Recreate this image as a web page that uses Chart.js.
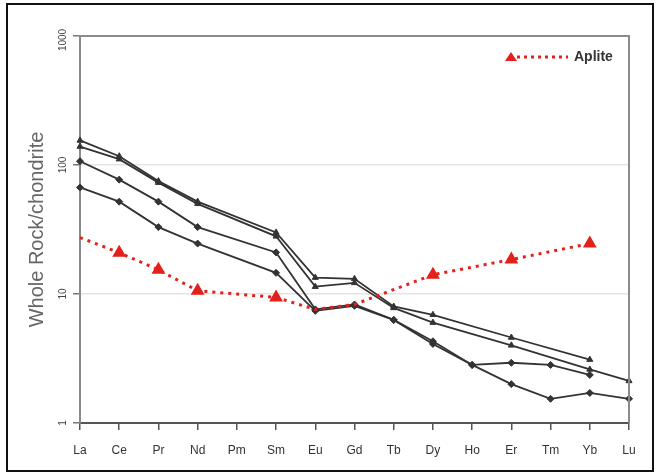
<!DOCTYPE html>
<html>
<head>
<meta charset="utf-8">
<script src="https://cdn.jsdelivr.net/npm/chart.js@4/dist/chart.umd.min.js"></script>
<style>
  html, body { margin: 0; padding: 0; background: #fff; }
  canvas { display: block; }
</style>
</head>
<body>
<canvas id="ree" width="661" height="475"></canvas>
<script>
// ---- data (chondrite-normalised REE) ----
const elements = ['La','Ce','Pr','Nd','Pm','Sm','Eu','Gd','Tb','Dy','Ho','Er','Tm','Yb','Lu'];
const sampleA = [155, 117, 75, 52, null, 30, 13.4, 13.1, 8.0, 6.9, null, 4.6, null, 3.1, null];
const sampleB = [139, 111, 73, 50, null, 28, 11.4, 12.2, 7.8, 6.0, null, 4.0, null, 2.6, 2.12];
const sampleC = [107, 77, 52, 33, null, 21, 7.6, 8.3, 6.3, 4.3, 2.82, 2.93, 2.82, 2.36, null];
const sampleD = [67, 52, 33, 24.6, null, 14.6, 7.4, 8.1, 6.3, 4.1, 2.82, 2.0, 1.54, 1.71, 1.54];
const aplite  = [27.4, 20.9, 15.4, 10.6, null, 9.4, 7.6, 8.3, null, 14.1, null, 18.5, null, 24.6, null];
const apliteMarked = ['Ce','Pr','Nd','Sm','Dy','Er','Yb'];
const yTicks = [1, 10, 100, 1000];

const RED = '#e3201b';
const DARK = '#333';

function blackSeries(label, data, shape){
  return {
    label, data,
    borderColor: DARK, borderWidth: 1.8,
    pointStyle: shape, pointRadius: 3.5,
    pointBackgroundColor: DARK, pointBorderColor: DARK, pointBorderWidth: 1,
    tension: 0, spanGaps: true
  };
}

// frame, y tick labels and the legend are drawn by hand here
const extras = {
  id: 'extras',
  afterDraw(chart){
    const {ctx, chartArea: a, scales} = chart;
    ctx.save();
    // plot area top + right border
    ctx.strokeStyle = '#8a8a8a'; ctx.lineWidth = 2;
    ctx.beginPath();
    ctx.moveTo(a.left, a.top); ctx.lineTo(a.right, a.top); ctx.lineTo(a.right, a.bottom);
    ctx.stroke();
    // outer black frame
    ctx.strokeStyle = '#111'; ctx.lineWidth = 2;
    ctx.strokeRect(7, 4, 646, 467);
    // rotated y tick labels
    ctx.fillStyle = '#444';
    ctx.font = '10px "Liberation Sans", Arial, sans-serif';
    ctx.textAlign = 'center'; ctx.textBaseline = 'middle';
    yTicks.forEach(v => {
      const y = scales.y.getPixelForValue(v);
      ctx.save();
      ctx.translate(63, v === 1000 ? y + 4 : y);
      ctx.rotate(-Math.PI / 2);
      ctx.fillText(String(v), 0, 0);
      ctx.restore();
    });
    // legend (only the aplite series is listed)
    const ly = 57;
    ctx.strokeStyle = RED; ctx.lineWidth = 3; ctx.setLineDash([3, 4]);
    ctx.beginPath(); ctx.moveTo(517, ly); ctx.lineTo(568, ly); ctx.stroke();
    ctx.setLineDash([]);
    ctx.fillStyle = RED;
    ctx.beginPath(); ctx.moveTo(511, ly - 5); ctx.lineTo(517, ly + 4); ctx.lineTo(505, ly + 4); ctx.closePath(); ctx.fill();
    ctx.fillStyle = '#333';
    ctx.font = 'bold 14px "Liberation Sans", Arial, sans-serif';
    ctx.textAlign = 'left';
    ctx.fillText('Aplite', 574, ly);
    ctx.restore();
  }
};

new Chart(document.getElementById('ree'), {
  type: 'line',
  data: {
    labels: elements,
    datasets: [
      {
        label: 'Aplite', data: aplite,
        borderColor: RED, borderWidth: 3, borderDash: [3, 5],
        pointStyle: 'triangle',
        pointRadius: ctx => apliteMarked.includes(elements[ctx.dataIndex]) ? 5 : 0,
        pointBackgroundColor: RED, pointBorderColor: RED,
        tension: 0, spanGaps: true
      },
      blackSeries('A', sampleA, 'triangle'),
      blackSeries('B', sampleB, 'triangle'),
      blackSeries('C', sampleC, 'rectRot'),
      blackSeries('D', sampleD, 'rectRot')
    ]
  },
  options: {
    responsive: false,
    animation: false,
    layout: { padding: { left: 0, top: 36, right: 32, bottom: 0 } },
    plugins: { legend: { display: false }, tooltip: { enabled: false } },
    scales: {
      x: {
        type: 'category',
        offset: false,
        afterFit: s => { s.height = 52; },
        grid: { drawOnChartArea: false, tickLength: 7, tickColor: '#555', lineWidth: 1.5 },
        border: { color: '#555', width: 2 },
        ticks: {
          color: '#333', padding: 13, maxRotation: 0, autoSkip: false,
          font: { size: 12, family: '"Liberation Sans", Arial, sans-serif' }
        }
      },
      y: {
        type: 'logarithmic',
        min: 1, max: 1000,
        afterFit: s => { s.width = 80; },
        afterBuildTicks: s => { s.ticks = yTicks.map(v => ({ value: v })); },
        grid: {
          color: ctx => (ctx.tick && (ctx.tick.value === 10 || ctx.tick.value === 100)) ? '#e4e4e4' : 'rgba(0,0,0,0)',
          lineWidth: 1.5,
          tickLength: 7, tickColor: '#777'
        },
        border: { color: '#8a8a8a', width: 2 },
        ticks: { display: false },
        title: {
          display: true, text: 'Whole Rock/chondrite', color: '#666',
          padding: { top: 25, bottom: 0 },
          font: { size: 20, family: '"Liberation Sans", Arial, sans-serif' }
        }
      }
    }
  },
  plugins: [extras]
});
</script>
</body>
</html>
